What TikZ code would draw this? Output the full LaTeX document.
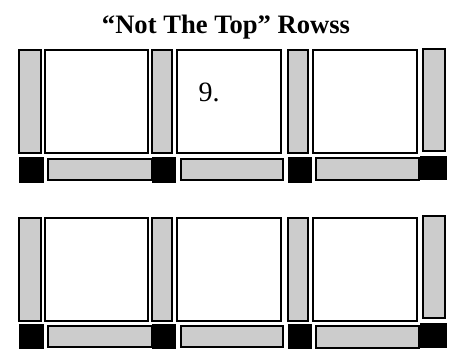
\documentclass[tikz,border=0pt]{standalone}
\usepackage{fontspec}
\setmainfont{Liberation Serif}
\definecolor{barfill}{HTML}{CCCCCC}
\begin{document}
\begin{tikzpicture}[x=1pt,y=-1pt,
  gbar/.style={draw=black, line width=2.2pt, fill=barfill, inner sep=0pt, outer sep=0pt},
  sqbox/.style={draw=black, line width=2.2pt, fill=white, inner sep=0pt, outer sep=0pt},
  blk/.style={draw=none, fill=black, inner sep=0pt, outer sep=0pt},
  title/.style={font=\fontsize{26.6}{30}\selectfont\bfseries, inner sep=0pt, anchor=base},
  num/.style={font=\fontsize{28}{32}\selectfont, inner sep=0pt, anchor=base west}]
\useasboundingbox (0,0) rectangle (455,348);
\clip (0,0) rectangle (455,348);
\node[title] (t) at (226,33.3) {“Not The Top” Rowss};
\foreach \r/\dy in {a/0, b/167.6} {
  % vertical gray bars and white squares
  \node[gbar, minimum width=21.4pt, minimum height=102.7pt] (v1\r) at (30,101.65+\dy) {};
  \node[sqbox, minimum width=103pt, minimum height=102.7pt] (s1\r) at (96.8,101.65+\dy) {};
  \node[gbar, minimum width=20.3pt, minimum height=102.7pt] (v2\r) at (162.15,101.65+\dy) {};
  \node[sqbox, minimum width=104pt, minimum height=102.7pt] (s2\r) at (228.7,101.65+\dy) {};
  \node[gbar, minimum width=20.6pt, minimum height=102.7pt] (v3\r) at (298,101.65+\dy) {};
  \node[sqbox, minimum width=103.4pt, minimum height=102.7pt] (s3\r) at (365,101.65+\dy) {};
  \node[gbar, minimum width=21.4pt, minimum height=102pt] (v4\r) at (434,99.7+\dy) {};
  % black squares
  \node[blk, minimum width=24.7pt, minimum height=26pt] (b1\r) at (31.65,169.7+\dy) {};
  \node[blk, minimum width=24pt, minimum height=26pt] (b2\r) at (164,169.7+\dy) {};
  \node[blk, minimum width=24.6pt, minimum height=26.6pt] (b3\r) at (300,170+\dy) {};
  \node[blk, minimum width=26.7pt, minimum height=24.3pt] (b4\r) at (433.35,167.85+\dy) {};
  % horizontal gray bars
  \node[gbar, minimum width=103.4pt, minimum height=21pt] (h1\r) at (100,169.2+\dy) {};
  \node[gbar, minimum width=102.3pt, minimum height=21pt] (h2\r) at (232.15,169.2+\dy) {};
  \node[gbar, minimum width=103pt, minimum height=21.7pt] (h3\r) at (367.5,169.15+\dy) {};
}
\node[num] (n9) at (198.5,101.7) {9.};
\end{tikzpicture}
\end{document}
